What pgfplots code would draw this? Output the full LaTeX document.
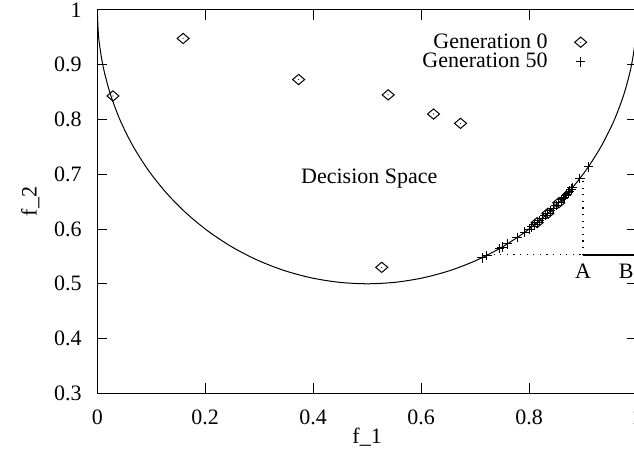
\documentclass[border=0pt]{standalone}
\usepackage{fontspec}
\setmainfont{Liberation Serif}
\usepackage{pgfplots}
\pgfplotsset{compat=1.18}

% gnuplot-like diamond with a dot in the middle
\pgfdeclareplotmark{gdia}{%
  \pgfpathmoveto{\pgfqpoint{\pgfplotmarksize}{0pt}}%
  \pgfpathlineto{\pgfqpoint{0pt}{0.85\pgfplotmarksize}}%
  \pgfpathlineto{\pgfqpoint{-\pgfplotmarksize}{0pt}}%
  \pgfpathlineto{\pgfqpoint{0pt}{-0.85\pgfplotmarksize}}%
  \pgfpathclose
  \pgfusepathqstroke
  \pgfpathcircle{\pgfpointorigin}{0.3pt}%
  \pgfusepathqfill
}

\begin{document}
\begin{tikzpicture}[font=\fontsize{11}{13}\selectfont]
\begin{axis}[
  scale only axis,
  width=269.85pt, height=191.65pt,
  xmin=0, xmax=1, ymin=0.3, ymax=1,
  xtick={0,0.2,0.4,0.6,0.8,1},
  ytick={0.3,0.4,0.5,0.6,0.7,0.8,0.9,1},
  tick align=inside,
  major tick length=5pt,
  tick style={black, line width=0.5pt},
  axis line style={line width=0.5pt},
  /pgf/number format/assume math mode=true,
  xticklabel style={yshift=-5pt},
  yticklabel style={xshift=-4.3pt},
  xlabel={f\_1}, ylabel={f\_2},
  xlabel style={at={(axis description cs:0.5,0)}, anchor=center, yshift=-22pt},
  ylabel style={at={(axis description cs:0,0.5)}, anchor=center, yshift=33.5pt},
  legend plot pos=right,
  legend cell align=right,
  legend style={draw=none, fill=none, inner sep=0pt,
    nodes={inner sep=0pt}, column sep=13.5pt, row sep=1pt,
    at={(rel axis cs:0.9075,0.94)}, anchor=north east},
]
\coordinate (bl) at (rel axis cs:0,0);
\coordinate (tr) at (rel axis cs:1,1);

% generation 0
\addplot[only marks, mark=gdia, mark size=3pt, line width=0.5pt] coordinates {
  (0.029,0.843) (0.159,0.948) (0.373,0.873) (0.539,0.845)
  (0.623,0.810) (0.673,0.793) (0.527,0.530)
  (0.815,0.6117) (0.835,0.6288) (0.855,0.6479)
};
\addlegendentry{Generation 0}

% generation 50
\addplot[only marks, mark=+, mark size=2.4pt, line width=0.5pt] coordinates {
  (0.713,0.5476) (0.722,0.5520) (0.745,0.5641) (0.750,0.5670)
  (0.760,0.5729) (0.778,0.5844) (0.792,0.5941) (0.800,0.6000)
  (0.805,0.6038) (0.810,0.6077) (0.815,0.6117) (0.819,0.6150)
  (0.825,0.6200) (0.830,0.6244) (0.835,0.6288) (0.840,0.6334)
  (0.845,0.6381) (0.850,0.6429) (0.855,0.6479) (0.860,0.6530)
  (0.863,0.6562) (0.865,0.6583) (0.868,0.6615) (0.870,0.6637)
  (0.873,0.6670) (0.875,0.6693) (0.878,0.6727) (0.880,0.6750)
  (0.894,0.6922) (0.910,0.7138)
};
\addlegendentry{Generation 50}

% boundary of the decision space
\addplot[black, line width=0.5pt, smooth, tension=0.5, forget plot] coordinates {
  (0,1) (0.00274,0.94774) (0.01093,0.89605) (0.02447,0.84549)
  (0.04323,0.79663) (0.06699,0.75) (0.09549,0.70611) (0.12843,0.66544)
  (0.16543,0.62843) (0.20611,0.59549) (0.25,0.56699) (0.29663,0.54323)
  (0.34549,0.52447) (0.39604,0.51093) (0.44774,0.50274) (0.5,0.5)
  (0.55226,0.50274) (0.60396,0.51093) (0.65451,0.52447) (0.70337,0.54323)
  (0.75,0.56699) (0.79389,0.59549) (0.83457,0.62843) (0.87157,0.66544)
  (0.90451,0.70611) (0.93301,0.75) (0.95677,0.79663) (0.97553,0.84549)
  (0.98907,0.89605) (0.99726,0.94774) (1,1)
};

% A-B segment and dotted guides
\addplot[black, line width=0.9pt, forget plot] coordinates {(0.9,0.553) (1,0.553)};
\addplot[black, line width=0.6pt, dash pattern=on 0.6pt off 2.7pt, forget plot]
  coordinates {(0.722,0.553) (0.9,0.553)};
\addplot[black, line width=0.6pt, dash pattern=on 0.6pt off 2.7pt, forget plot]
  coordinates {(0.9,0.553) (0.9,0.695)};

\node[anchor=west, inner sep=0pt] at (axis cs:0.377,0.693) {Decision Space};
\node[inner sep=0pt] at (axis cs:0.9,0.522) {A};
\node[inner sep=0pt] at (axis cs:0.98,0.522) {B};
\end{axis}
\pgfresetboundingbox
\path ([xshift=-48.65pt, yshift=-28.35pt]bl) rectangle ([xshift=-1.5pt, yshift=5pt]tr);
\end{tikzpicture}
\end{document}
